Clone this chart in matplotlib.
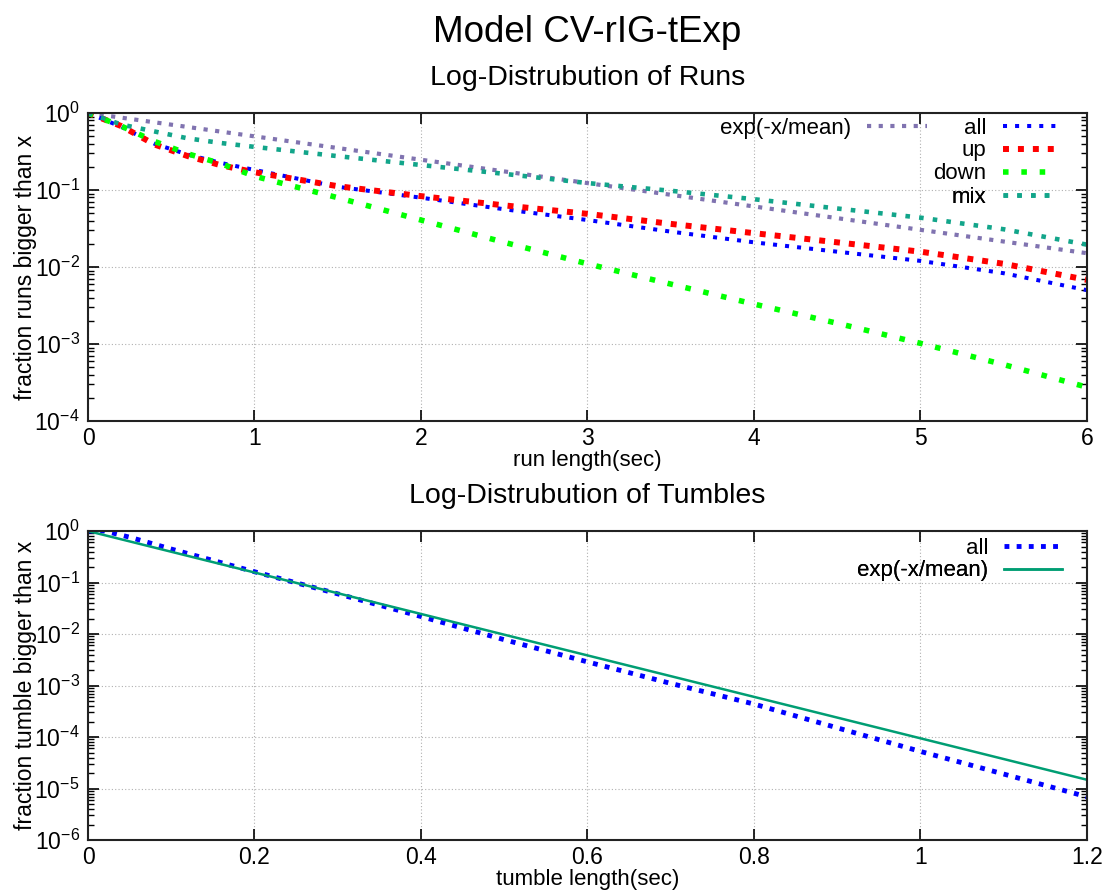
import matplotlib
matplotlib.use("Agg")
import matplotlib.pyplot as plt
from matplotlib.ticker import LogLocator, FuncFormatter, NullFormatter
import numpy as np

plt.rcParams['font.family'] = ['Liberation Sans', 'DejaVu Sans']

# ---- runs (top panel) ----
run_x = [0, 0.2, 0.4, 0.6, 0.8, 1, 1.5, 2, 2.5, 3, 3.5, 4, 4.5, 5, 5.5, 6]
run_all = [1.0, 0.661, 0.398, 0.288, 0.224, 0.182, 0.110, 0.0794, 0.0562, 0.0407,
           0.0288, 0.0209, 0.0158, 0.0120, 0.0083, 0.0050]
run_up = [1.0, 0.676, 0.389, 0.275, 0.209, 0.170, 0.112, 0.0832, 0.0631, 0.0490,
          0.0363, 0.0275, 0.0209, 0.0158, 0.0110, 0.0068]
run_down = [1.0, 0.676, 0.427, 0.295, 0.219, 0.151, 0.0794, 0.0407, 0.0209, 0.0110,
            0.0060, 0.0033, 0.00186, 0.00102, 0.00054, 0.000275]
run_mix = [1.0, 0.708, 0.575, 0.468, 0.407, 0.363, 0.275, 0.211, 0.162, 0.123,
           0.0977, 0.0759, 0.0575, 0.0437, 0.0309, 0.0195]
run_exp_x = [0, 6]
run_exp = [1.0, 0.0151]

# ---- tumbles (bottom panel) ----
tum_x = [0, 0.02, 0.05, 0.1, 0.15, 0.2, 0.3, 0.4, 0.5, 0.6, 0.7, 0.8, 0.9, 1.0, 1.1, 1.2]
tum_all = [1.0, 1.0, 0.759, 0.447, 0.269, 0.162, 0.0603, 0.0219, 0.00776, 0.00288,
           0.00110, 0.000437, 0.000151, 5.25e-5, 1.91e-5, 6.92e-6]
tum_exp_x = [0, 1.2]
tum_exp = [1.0, 1.48e-5]


def style_axes(ax, lowest_decade, xticks):
    ax.set_yscale('log')
    ax.set_ylim(10.0 ** lowest_decade, 1.0)
    ax.set_xlim(xticks[0], xticks[-1])
    ax.set_xticks(xticks)
    ax.xaxis.set_major_formatter(FuncFormatter(lambda v, p: '%g' % v))
    ax.set_yticks([10.0 ** k for k in range(lowest_decade, 1)])
    ax.yaxis.set_minor_locator(LogLocator(base=10, subs=np.arange(2, 10), numticks=20))
    ax.yaxis.set_minor_formatter(NullFormatter())
    ax.tick_params(which='both', direction='in', top=True, right=True, labelsize=16.5)
    ax.tick_params(which='major', length=8, width=1.2)
    ax.tick_params(which='minor', length=4, width=1)
    ax.tick_params(axis='x', pad=4)
    ax.tick_params(axis='y', pad=6)
    ax.grid(True, which='major', color='#b0b0b0', linestyle=(0, (1, 2)), linewidth=0.8)
    for s in ax.spines.values():
        s.set_linewidth(1.5)
        s.set_color('#222222')


def key(ax, line, x, y, hl):
    # one gnuplot-style key entry: text right-aligned, sample to its right
    leg = ax.legend(handles=[line], loc='center right', bbox_to_anchor=(x, y),
                    frameon=False, markerfirst=False, fontsize=16, handlelength=hl,
                    handletextpad=0.72, borderpad=0, borderaxespad=0)
    ax.add_artist(leg)


fig = plt.figure(figsize=(11.07, 8.91), dpi=100)
ax1 = fig.add_axes([0.0795, 0.5275, 0.9024, 0.3457])
ax2 = fig.add_axes([0.0795, 0.0572, 0.9024, 0.3468])

fig.text(0.530, 0.963, 'Model CV-rIG-tExp', ha='center', va='center', fontsize=26.5)

# top panel
l_exp, = ax1.plot(run_exp_x, run_exp, color='#8073b0', lw=3.0, ls=(0, (1, 1.8)), label='exp(-x/mean)')
l_all, = ax1.plot(run_x, run_all, color='#0000ff', lw=2.9, ls=(0, (1, 2)), label='all')
l_up, = ax1.plot(run_x, run_up, color='#ff0000', lw=4.3, ls=(0, (1, 1.5)), label='up')
l_down, = ax1.plot(run_x, run_down, color='#00ff00', lw=4.0, ls=(0, (1, 2.3)), label='down')
l_mix, = ax1.plot(run_x, run_mix, color='#12a58a', lw=3.3, ls=(0, (1, 2)), label='mix')
style_axes(ax1, -4, [0, 1, 2, 3, 4, 5, 6])
ax1.set_title('Log-Distrubution of Runs', fontsize=20.5, pad=20)
ax1.set_xlabel('run length(sec)', fontsize=16, labelpad=0)
ax1.set_ylabel('fraction runs bigger than x', fontsize=16.5, labelpad=-2)

key(ax1, l_exp, 0.840, 0.951, 2.7)
key(ax1, l_all, 0.970, 0.951, 2.45)
key(ax1, l_up, 0.970, 0.877, 2.45)
key(ax1, l_down, 0.970, 0.802, 2.45)
key(ax1, l_mix, 0.970, 0.727, 2.45)

# bottom panel
t_all, = ax2.plot(tum_x, tum_all, color='#0000ff', lw=3.5, ls=(0, (1, 1.5)), label='all')
t_exp, = ax2.plot(tum_exp_x, tum_exp, color='#009e73', lw=1.8, label='exp(-x/mean)')
style_axes(ax2, -6, [0, 0.2, 0.4, 0.6, 0.8, 1.0, 1.2])
ax2.set_title('Log-Distrubution of Tumbles', fontsize=20.5, pad=20)
ax2.set_xlabel('tumble length(sec)', fontsize=16, labelpad=0)
ax2.set_ylabel('fraction tumble bigger than x', fontsize=16.5, labelpad=-2)

key(ax2, t_all, 0.975, 0.945, 2.6)
key(ax2, t_exp, 0.975, 0.871, 2.6)

fig.savefig('out.png', dpi=100)
